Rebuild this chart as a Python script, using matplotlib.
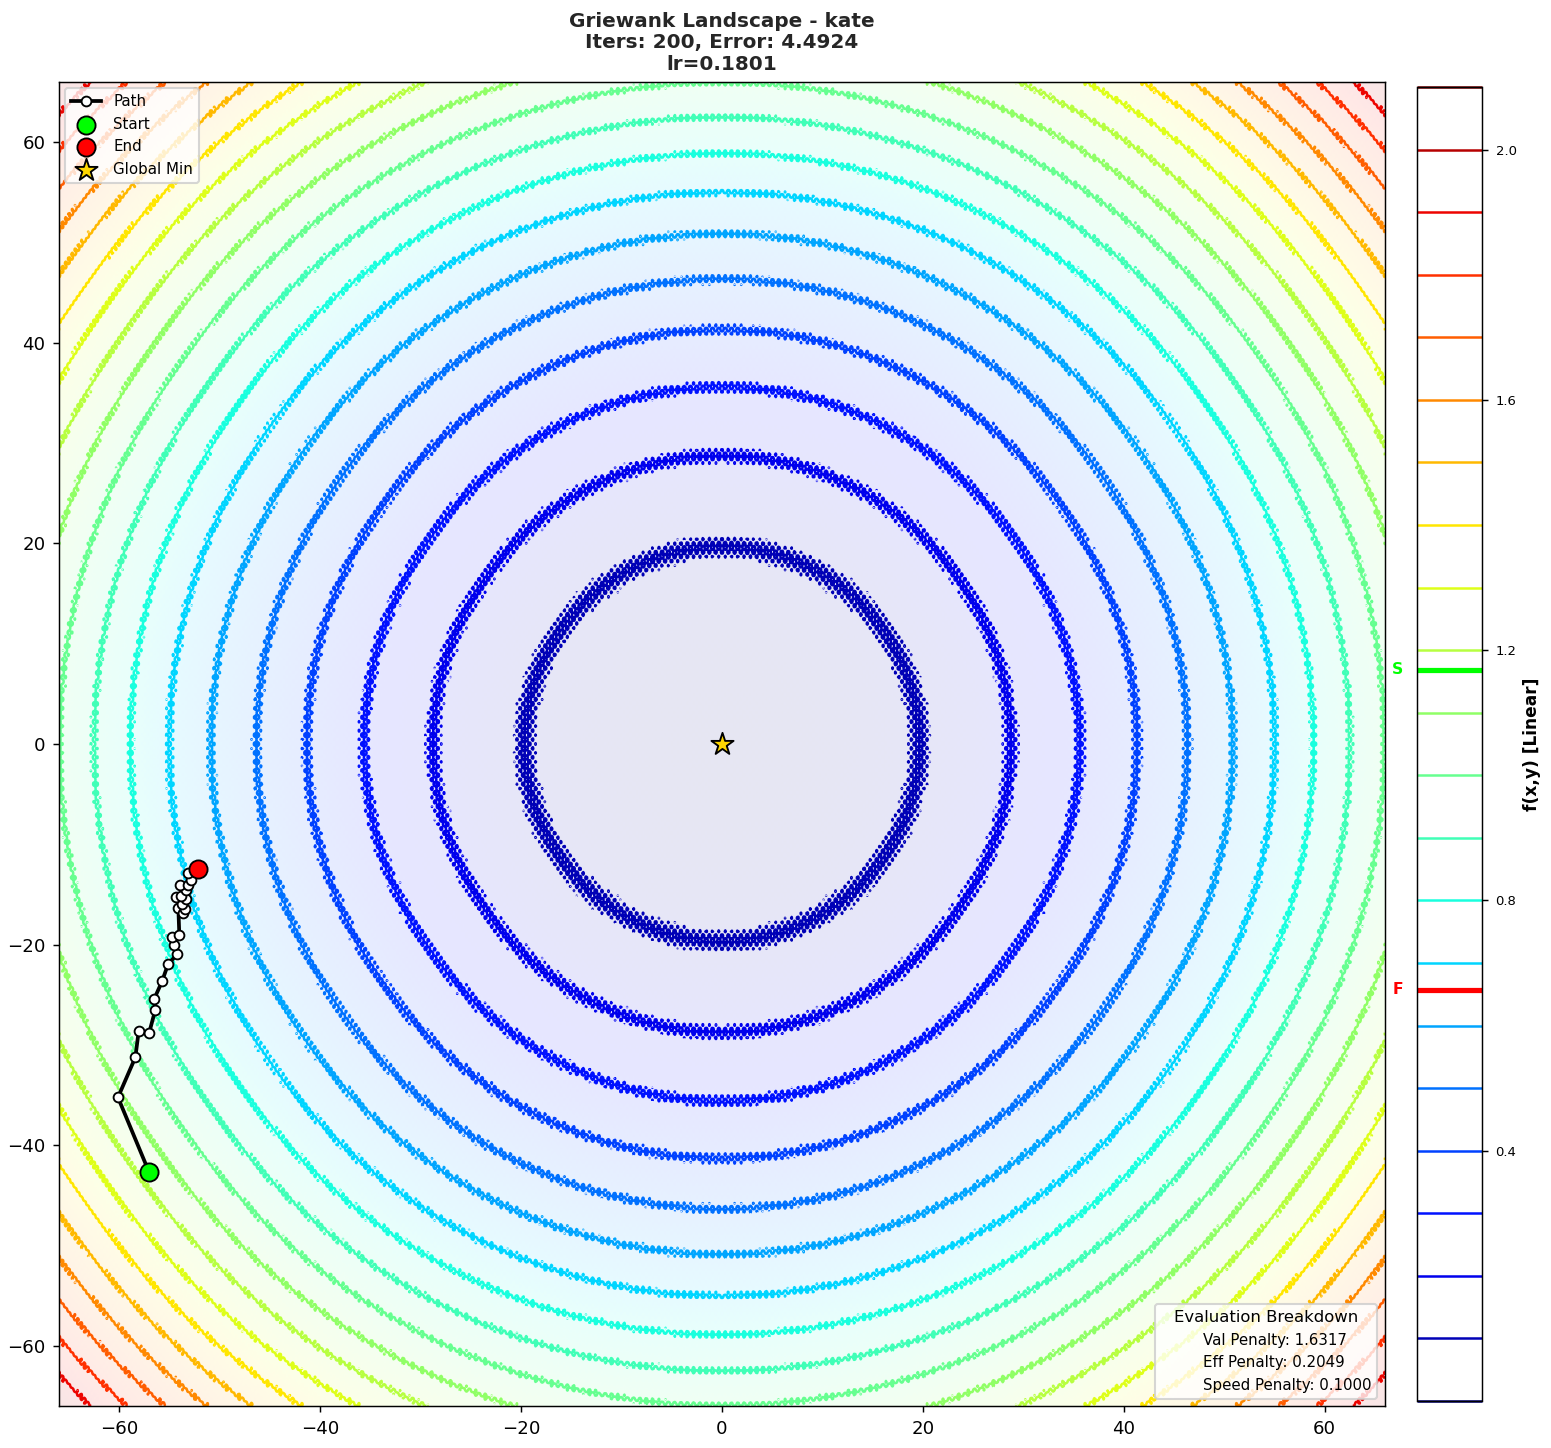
"""Griewank landscape with optimiser path and evaluation breakdown."""
import numpy as np
import matplotlib
matplotlib.use("Agg")
import matplotlib.pyplot as plt
from matplotlib.lines import Line2D

# optimiser path
path_x = [-57.04, -60.13, -58.40, -58.07, -57.04, -56.41, -56.54, -55.74, -55.15,
          -54.25, -54.55, -54.71, -54.02, -54.12, -53.65, -53.45, -53.72, -53.39,
          -54.32, -53.82, -53.39, -53.92, -53.15, -52.82, -53.15, -52.16]
path_y = [-42.67, -35.23, -31.24, -28.65, -28.85, -26.49, -25.46, -23.66, -21.97,
          -20.97, -20.07, -19.24, -19.08, -16.32, -16.82, -16.48, -15.99, -15.42,
          -15.22, -15.15, -14.59, -14.09, -14.09, -13.59, -12.83, -12.43]

levels = [0.0, 0.1, 0.2, 0.3, 0.4, 0.5, 0.6, 0.7, 0.8, 0.9, 1.0,
          1.1, 1.2, 1.3, 1.4, 1.5, 1.6, 1.7, 1.8, 1.9, 2.0, 2.1]
cbar_ticks = [0.4, 0.8, 1.2, 1.6, 2.0]
start_val = 1.169
end_val = 0.657
breakdown = ["Val Penalty: 1.6317", "Eff Penalty: 0.2049", "Speed Penalty: 0.1000"]

# the surface: bowl plus a tiny fast ripple, fitted to the ring radii in the picture
RANGE = 66.0
BOWL_DIV = 4400.0
RIPPLE = 0.012
FREQ = 10.0
xs = np.linspace(-RANGE, RANGE, 1000)
ys = np.linspace(-RANGE, RANGE, 1000)
X, Y = np.meshgrid(xs, ys)
Z = (X**2 + Y**2) / BOWL_DIV + RIPPLE * (1 - np.cos(FREQ * X) * np.cos(FREQ * Y / np.sqrt(2)))

plt.rcParams["xtick.major.size"] = 3
plt.rcParams["ytick.major.size"] = 3
plt.rcParams["xtick.major.width"] = 0.7
plt.rcParams["ytick.major.width"] = 0.7
plt.rcParams["axes.linewidth"] = 0.7

fig = plt.figure(figsize=(1552 / 150, 1448 / 150), dpi=150)
ax = fig.add_axes([59 / 1552, 1 - 1406 / 1448, 1326 / 1552, 1324 / 1448])
cax = fig.add_axes([1417 / 1552, 1 - 1401 / 1448, 65 / 1552, 1314 / 1448])

ax.imshow(Z, extent=[-RANGE, RANGE, -RANGE, RANGE], origin="lower", cmap="jet",
          vmin=levels[0], vmax=levels[-1], alpha=0.1, aspect="auto")
cs = ax.contour(X, Y, Z, levels=levels, cmap="jet", linewidths=1.2)

ax.plot(path_x, path_y, "-o", color="k", lw=1.8, ms=4.7, mfc="white", mec="k", mew=0.9,
        zorder=5, label="Path")
ax.scatter(path_x[0], path_y[0], c="lime", s=76, edgecolors="k", linewidths=0.9, zorder=6, label="Start")
ax.scatter(path_x[-1], path_y[-1], c="red", s=76, edgecolors="k", linewidths=0.9, zorder=6, label="End")
ax.scatter(0, 0, c="gold", marker="*", s=125, edgecolors="k", linewidths=0.9, zorder=6, label="Global Min")

ax.set_xlim(-RANGE, RANGE)
ax.set_ylim(-RANGE, RANGE)
ax.tick_params(labelsize=8.7)
ax.set_title("Griewank Landscape - kate\nIters: 200, Error: 4.4924\nlr=0.1801",
             fontsize=9.6, fontweight="bold", color="#262626", pad=6, linespacing=1.14)

leg = ax.legend(loc="upper left", fontsize=7.2, borderaxespad=0.42)
ax.add_artist(leg)
blank = [Line2D([], [], color="none") for _ in breakdown]
ax.legend(blank, breakdown, loc="lower right", title="Evaluation Breakdown",
          fontsize=7.2, title_fontsize=7.9)

cb = fig.colorbar(cs, cax=cax)
cb.set_ticks(cbar_ticks)
cb.ax.tick_params(labelsize=6.3)
cb.set_label("f(x,y) [Linear]", fontsize=8.2, fontweight="bold", labelpad=3)
cax.set_ylim(levels[0], levels[-1])
cb.lines[0].set_clip_on(False)

# start/end values on the colourbar
cax.axhline(start_val, color="lime", lw=2.5)
cax.axhline(end_val, color="red", lw=2.5)
cax.text(-0.3, start_val, "S", color="lime", fontsize=7.5, fontweight="bold",
         ha="center", va="center", transform=cax.get_yaxis_transform())
cax.text(-0.3, end_val, "F", color="red", fontsize=7.5, fontweight="bold",
         ha="center", va="center", transform=cax.get_yaxis_transform())

fig.savefig("out.png", dpi=150)
